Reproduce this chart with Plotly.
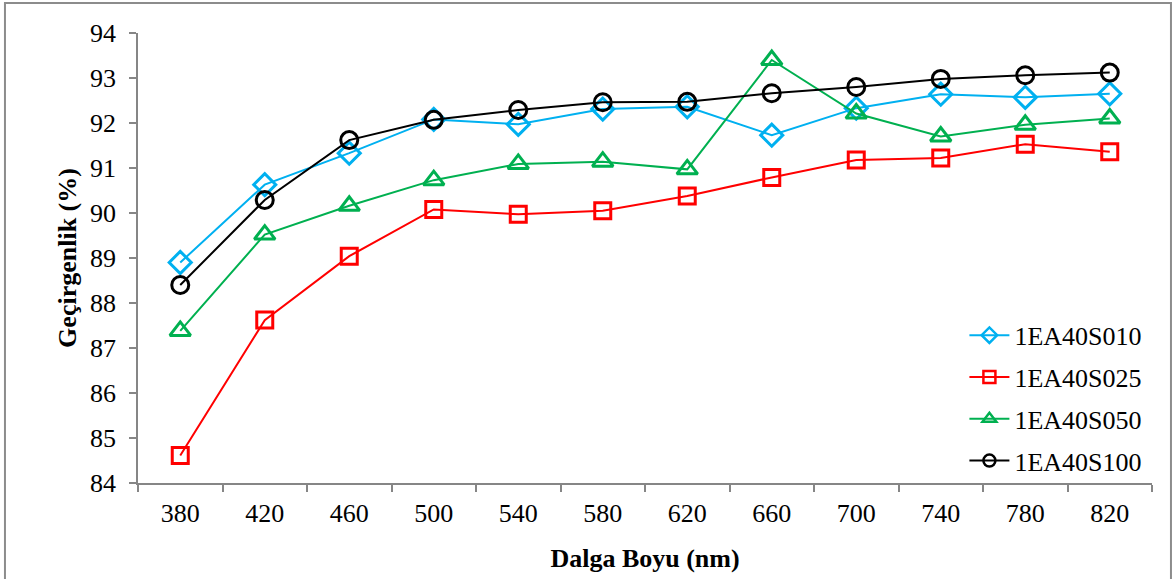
import plotly.graph_objects as go

# Wavelength categories (nm)
wavelengths = ["380", "420", "460", "500", "540", "580", "620", "660", "700", "740", "780", "820"]

# Transmittance (%) for each sample
s010 = [88.90, 90.63, 91.33, 92.08, 91.97, 92.31, 92.36, 91.73, 92.33, 92.64, 92.57, 92.65]
s025 = [84.61, 87.62, 89.04, 90.08, 89.97, 90.05, 90.38, 90.79, 91.18, 91.22, 91.53, 91.36]
s050 = [87.38, 89.52, 90.16, 90.73, 91.09, 91.14, 90.97, 93.40, 92.21, 91.70, 91.96, 92.10]
s100 = [88.40, 90.29, 91.62, 92.07, 92.29, 92.46, 92.47, 92.66, 92.80, 92.98, 93.06, 93.12]

series = [
    ("1EA40S010", s010, "#00B0F0", "diamond-open", 17),
    ("1EA40S025", s025, "#FF0000", "square-open", 16),
    ("1EA40S050", s050, "#00B050", "triangle-up-open", 18),
    ("1EA40S100", s100, "#000000", "circle-open", 17),
]

FONT = "Liberation Serif"
AXIS_GRAY = "#868686"

fig = go.Figure()

for name, vals, color, symbol, size in series:
    fig.add_trace(go.Scatter(
        x=wavelengths, y=vals, mode="lines+markers", name=name,
        line=dict(color=color, width=2),
        marker=dict(symbol=symbol, size=size, color=color,
                    line=dict(color=color, width=3)),
        showlegend=False,
    ))

# Legend entries with smaller markers
for name, vals, color, symbol, size in series:
    fig.add_trace(go.Scatter(
        x=[None], y=[None], mode="lines+markers", name=name,
        legendgroup=name,
        line=dict(color=color, width=2),
        marker=dict(symbol=symbol, size=12, color=color,
                    line=dict(color=color, width=2.5)),
    ))

fig.update_layout(
    width=1174, height=579,
    margin=dict(l=138, r=22, t=33, b=96),
    paper_bgcolor="white", plot_bgcolor="white",
    font=dict(family=FONT, size=26, color="black"),
    showlegend=True,
    legend=dict(
        x=0.815, y=-0.004, xanchor="left", yanchor="bottom",
        bgcolor="rgba(0,0,0,0)",
        font=dict(family=FONT, size=26, color="black"),
        tracegroupgap=5, itemwidth=40,
    ),
    xaxis=dict(
        type="category", range=[-0.5, 11.5],
        tickson="boundaries", ticks="outside", ticklen=7,
        tickcolor=AXIS_GRAY, tickwidth=1.5,
        showline=True, linecolor=AXIS_GRAY, linewidth=1.5,
        showgrid=False, zeroline=False,
        tickfont=dict(family=FONT, size=26),
        ticklabelstandoff=6,
        title=dict(text="<b>Dalga Boyu (nm)</b>", font=dict(family=FONT, size=26), standoff=22),
    ),
    yaxis=dict(
        range=[84, 94], dtick=1, ticks="outside", ticklen=7,
        tickcolor=AXIS_GRAY, tickwidth=1.5,
        showline=True, linecolor=AXIS_GRAY, linewidth=1.5,
        showgrid=False, zeroline=False,
        tickfont=dict(family=FONT, size=26),
        ticklabelstandoff=8,
        title=dict(text="<b>Geçirgenlik (%)</b>", font=dict(family=FONT, size=26), standoff=6),
    ),
    shapes=[
        dict(type="rect", xref="paper", yref="paper",
             x0=-0.1312, x1=1.0187, y0=-0.4, y1=1.0667,
             line=dict(color="#8c8c8c", width=2), fillcolor="rgba(0,0,0,0)", layer="below"),
    ],
)

fig.write_html("out.html")
